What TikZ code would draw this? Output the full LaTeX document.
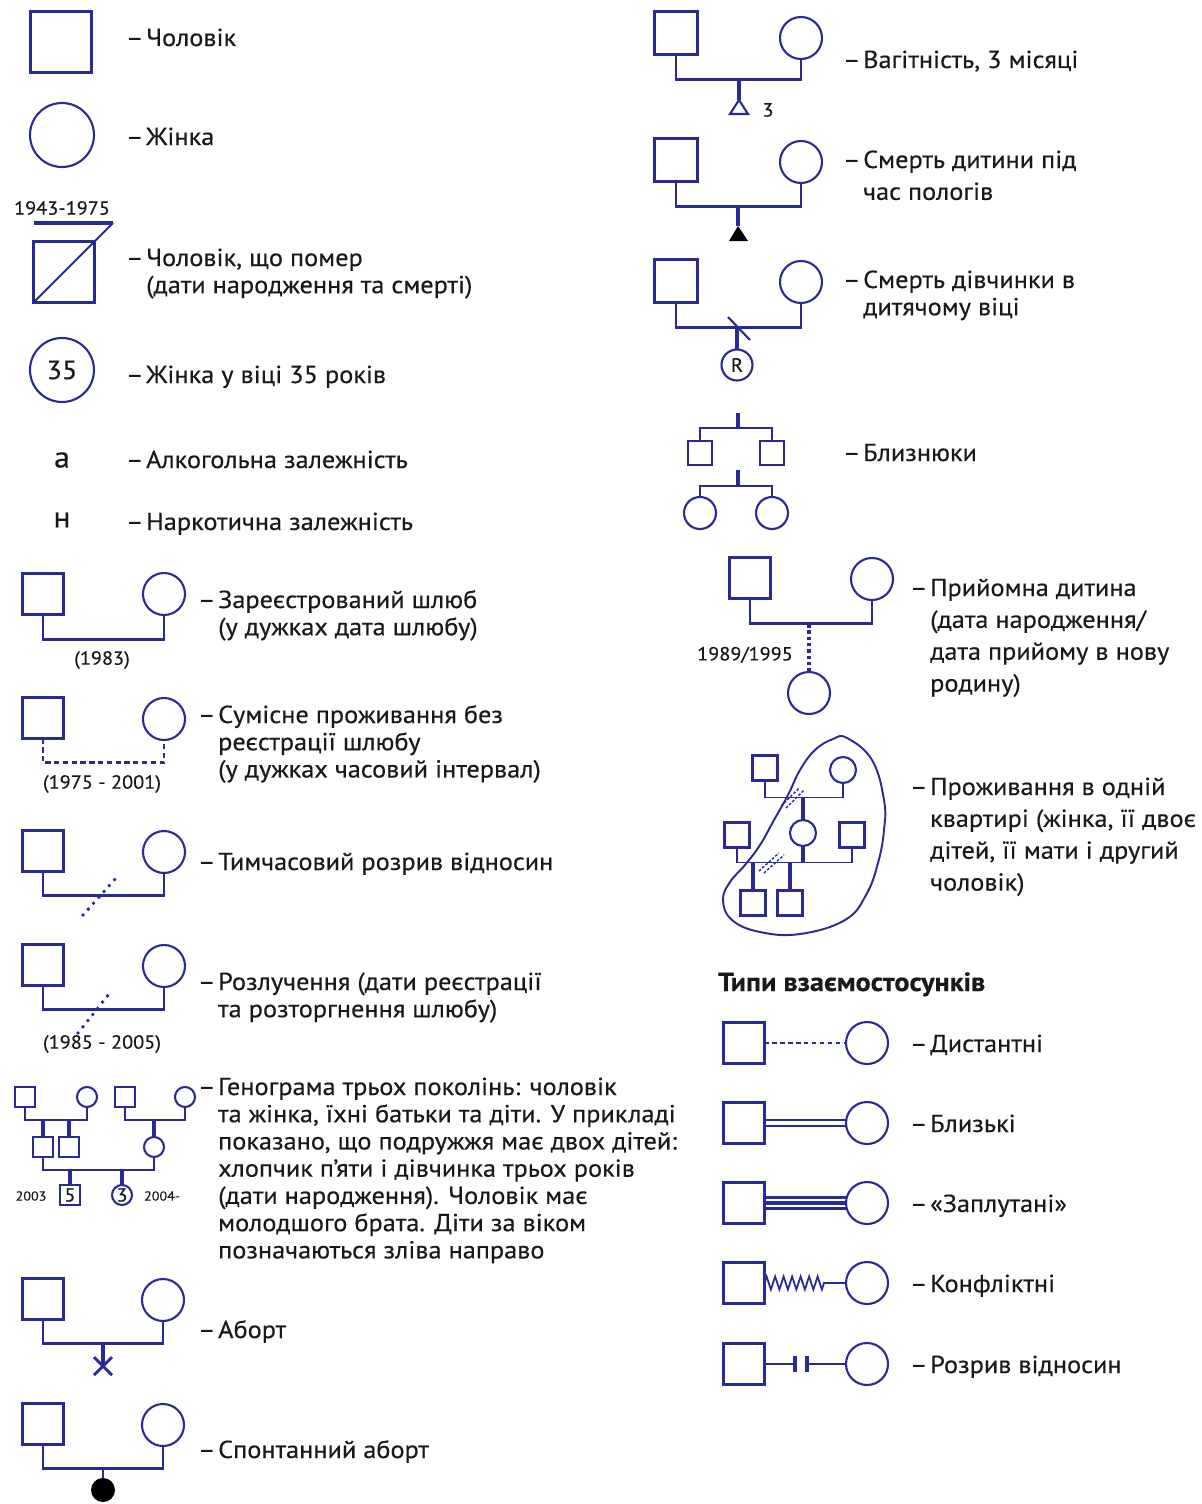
\documentclass[tikz,border=0pt]{standalone}
\usepackage{fontspec}
\setmainfont[FakeStretch=1.07, FakeBold=0.3]{PT Sans}
\usepackage{xcolor}
\usetikzlibrary{positioning,decorations.pathmorphing}

\definecolor{gb}{RGB}{42,42,150}
\definecolor{tx}{RGB}{25,25,25}
\newcommand{\lgfont}{\fontsize{14}{15.5}\selectfont}
\newcommand{\notefont}{\fontsize{10.8}{12}\selectfont}
\newcommand{\tinyfont}{\fontsize{7.5}{9}\selectfont}
\newcommand{\lgd}[2][1]{\renewcommand\arraystretch{#1}–\hspace{1.6pt}\begin{tabular}[t]{@{}l@{}}#2\end{tabular}}

\begin{document}
\begin{tikzpicture}[x=0.02cm, y=-0.02cm,
    every node/.style={inner sep=0pt, outer sep=0pt},
    sq/.style={draw=gb, line width=1.2pt, rectangle, minimum size=#1},
    sq/.default=0.82cm,
    ci/.style={draw=gb, line width=1.2pt, circle, minimum size=#1},
    ci/.default=0.84cm,
    ln/.style={draw=gb, line width=1.2pt},
    kid/.style={draw=gb, line width=2.4pt},
    dots/.style={draw=gb, line width=2.2pt, line cap=round, dash pattern=on 0pt off 4.5pt},
    hatch/.style={draw=gb, line width=0.8pt, dash pattern=on 1.5pt off 1pt},
    lbl/.style={anchor=base west, text=tx, font=\lgfont},
    note/.style={text=tx, font=\notefont},
    tiny/.style={text=tx, font=\tinyfont},
]
\fill[white] (0,0) rectangle (1202,1504);
\useasboundingbox (0,0) rectangle (1202,1504);

% Single persons
\node[sq=1.22cm] (man) at (61,42) {};
\node[lbl] (tman) at (126,46) {\lgd{Чоловік}};
\node[ci=1.28cm] (woman) at (62,135) {};
\node[lbl] (twoman) at (126,145) {\lgd{Жінка}};

\node[sq=1.22cm] (dead) at (64,272) {};
\coordinate (bar) at (113,223);
\draw[ln, line width=2.2pt] (dead.west |- bar) -- (bar);
\draw[ln] (dead.south west) -- (bar);
\node[note] (ddate) at (62,208) {1943-1975};
\node[lbl] (tdead) at (126,266) {\lgd{Чоловік, що помер\\(дати народження та смерті)}};

\node[ci=1.28cm, text=tx, font=\fontsize{15}{18}\selectfont] (w35) at (62,370) {35};
\node[lbl] (tw35) at (126,383) {\lgd{Жінка у віці 35 років}};
\node[text=tx, font=\fontsize{17}{18}\selectfont] (alc) at (62,460) {а};
\node[lbl] (talc) at (126,468) {\lgd{Алкогольна залежність}};
\node[text=tx, font=\fontsize{17}{18}\selectfont] (drug) at (62,520) {н};
\node[lbl] (tdrug) at (126,530) {\lgd{Наркотична залежність}};

% Couples
\node[sq] (m1) at (43,594) {};
\node[ci] (f1) at (164,594) {};
\draw[ln] (m1.south) -- ++(0,25) -| (f1.south);
\node[note] (y1) at (102,660) {(1983)};
\node[lbl] (t1) at (198,608) {\lgd{Зареєстрований шлюб\\(у дужках дата шлюбу)}};

\node[sq] (m2) at (43,718) {};
\node[ci] (f2) at (164,719) {};
\draw[ln, dash pattern=on 3pt off 2pt] (m2.south) -- ++(0,24) -| (f2.south);
\node[note] (y2) at (102,784) {(1975 - 2001)};
\node[lbl] (t2) at (198,723) {\lgd{Сумісне проживання без\\реєстрації шлюбу\\(у дужках часовий інтервал)}};

\node[sq] (m3) at (43,851) {};
\node[ci] (f3) at (164,852) {};
\draw[ln] (m3.south) -- ++(0,24) -| (f3.south);
\draw[dots] (83,915) -- (116,878);
\node[lbl] (t3) at (198,870) {\lgd{Тимчасовий розрив відносин}};

\node[sq] (m4) at (43,965) {};
\node[ci] (f4) at (164,966) {};
\draw[ln] (m4.south) -- ++(0,24) -| (f4.south);
\draw[dots] (78,1033) -- (109,994);
\node[note] (y4) at (102,1044) {(1985 - 2005)};
\node[lbl] (t4) at (198,990) {\lgd{Розлучення (дати реєстрації\\та розторгнення шлюбу)}};

% Three generations
\node[sq=0.4cm] (g1) at (25,1097) {};
\node[ci=0.4cm] (g2) at (87,1097) {};
\node[sq=0.4cm] (g3) at (125,1097) {};
\node[ci=0.4cm] (g4) at (185,1097) {};
\draw[ln] (g1.south) -- ++(0,13) -| (g2.south);
\draw[ln] (g3.south) -- ++(0,13) -| (g4.south);
\coordinate (j1) at (56,1120);
\coordinate (j2) at (155,1120);
\node[sq=0.4cm] (s1) at (43,1147) {};
\node[sq=0.4cm] (s2) at (69,1147) {};
\node[ci=0.4cm] (d1) at (154,1147) {};
\draw[kid] (s1.north) -- (s1.north |- j1);
\draw[kid] (s2.north) -- (s2.north |- j1);
\draw[kid] (d1.north) -- (d1.north |- j2);
\draw[ln] (s1.south) -- ++(0,13) -| (d1.south);
\coordinate (j3) at (96,1170);
\node[sq=0.4cm, text=tx, font=\notefont] (c5) at (70,1195) {5};
\node[ci=0.4cm, text=tx, font=\notefont] (c3) at (122,1195) {3};
\draw[kid] (c5.north) -- (c5.north |- j3);
\draw[kid] (c3.north) -- (c3.north |- j3);
\node[tiny] (y03) at (31,1196) {2003};
\node[tiny] (y04) at (162,1196) {2004-};
\node[lbl] (t5) at (198,1095) {\lgd{Генограма трьох поколінь: чоловік\\та жінка, їхні батьки та діти. У прикладі\\показано, що подружжя має двох дітей:\\хлопчик п’яти і дівчинка трьох років\\(дати народження). Чоловік має\\молодшого брата. Діти за віком\\позначаються зліва направо}};

% Abortions
\node[sq] (m5) at (43,1299) {};
\node[ci] (f5) at (163,1300) {};
\draw[ln] (m5.south) -- ++(0,24) -| (f5.south);
\coordinate (k5) at (103,1344);
\coordinate (ab) at (103,1366);
\draw[kid] (k5) -- (ab);
\draw[ln, line width=1.6pt] (94,1357) -- (112,1375) (112,1357) -- (94,1375);
\node[lbl] (t6) at (198,1338) {\lgd{Аборт}};

\node[sq] (m6) at (43,1424) {};
\node[ci] (f6) at (163,1425) {};
\draw[ln] (m6.south) -- ++(0,24) -| (f6.south);
\coordinate (k6) at (103,1470);
\node[circle, fill=black, minimum size=0.48cm] (sp) at (103,1490) {};
\draw[ln] (sp.north) -- (k6);
\node[lbl] (t7) at (198,1458) {\lgd{Спонтанний аборт}};

% Right column: pregnancy and deaths
\node[sq=0.86cm] (p1m) at (676,33) {};
\node[ci] (p1f) at (801,38) {};
\draw[ln] (p1m.south) -- ++(0,25) -| (p1f.south);
\coordinate (k1) at (739,80);
\coordinate (tr1) at (739,100);
\draw[kid, line width=1.8pt] (k1) -- (tr1);
\draw[ln] (tr1) -- ++(-9,14) -- ++(18,0) -- cycle;
\node[note] (n3) at (768,110) {3};
\node[lbl] (r1) at (843,68) {\lgd{Вагітність, 3 місяці}};

\node[sq=0.86cm] (p2m) at (676,160) {};
\node[ci] (p2f) at (801,162) {};
\draw[ln] (p2m.south) -- ++(0,25) -| (p2f.south);
\coordinate (k2) at (738,207);
\coordinate (tr2) at (738,226);
\draw[kid] (k2) -- (tr2);
\fill[black] (tr2) -- (729,241) -- (748,241) -- cycle;
\node[lbl] (r2) at (843,168) {\lgd[1.17]{Смерть дитини під\\час пологів}};

\node[sq=0.86cm] (p3m) at (676,281) {};
\node[ci] (p3f) at (801,282) {};
\draw[ln] (p3m.south) -- ++(0,25) -| (p3f.south);
\coordinate (k3) at (737,327);
\node[ci=0.62cm, text=tx, font=\fontsize{11}{13}\selectfont] (rc) at (737,365) {R};
\draw[kid] (k3) -- (rc.north);
\draw[ln] (728,317) -- (750,340);
\node[lbl] (r3) at (843,288) {\lgd{Смерть дівчинки в\\дитячому віці}};

% Twins
\coordinate (tk1) at (738,413);
\coordinate (tk2) at (738,470);
\node[sq=0.48cm] (tw1) at (700,453) {};
\node[sq=0.48cm] (tw2) at (772,453) {};
\node[ci=0.64cm] (tw3) at (700,513) {};
\node[ci=0.64cm] (tw4) at (772,513) {};
\draw[kid, line width=2pt] (tk1) -- ++(0,15);
\draw[ln] (tw1.north) |- (tk1 |- 0,428) -| (tw2.north);
\draw[kid, line width=2pt] (tk2) -- ++(0,16);
\draw[ln] (tw3.north) |- (tk2 |- 0,486) -| (tw4.north);
\node[lbl] (r4) at (843,461) {\lgd{Близнюки}};

% Adoption
\node[sq] (a1m) at (750,578) {};
\node[ci] (a1f) at (872,579) {};
\draw[ln] (a1m.south) -- ++(0,25) -| (a1f.south);
\node[ci] (a1c) at (809,693) {};
\coordinate (k4) at (809,624);
\draw[draw=gb, line width=1.8pt, dash pattern=on 2pt off 1.6pt] (k4) -- (a1c.north);
\node[note] (y5) at (745,655) {1989/1995};
\node[lbl] (r5) at (910,596) {\lgd[1.17]{Прийомна дитина\\(дата народження/\\дата прийому в нову\\родину)}};

% Household
\node[sq=0.5cm] (h1) at (765,768) {};
\node[ci=0.52cm] (h2) at (843,770) {};
\draw[ln, line width=1pt] (h1.south) -- ++(0,17) -| (h2.south);
\node[ci=0.52cm] (h3) at (803,833) {};
\coordinate (k7) at (803,797);
\draw[kid, line width=2pt] (k7) -- (h3.north);
\node[sq=0.5cm] (h4) at (737,835) {};
\node[sq=0.5cm] (h5) at (852,835) {};
\draw[ln, line width=1pt] (h4.south) -- ++(0,15) -| (h5.south);
\coordinate (k8) at (803,863);
\draw[kid, line width=2pt] (h3.south) -- (k8);
\node[sq=0.5cm] (h6) at (753,903) {};
\node[sq=0.5cm] (h7) at (790,903) {};
\draw[kid, line width=2pt] (h6.north) -- (h6.north |- k8);
\draw[kid, line width=2pt] (h7.north) -- (h7.north |- k8);
\draw[hatch] (781,806) -- (799,788);
\draw[hatch] (786,808) -- (804,790);
\draw[hatch] (759,871) -- (779,853);
\draw[hatch] (764,873) -- (784,855);
\draw[gb, line width=1.1pt] plot[smooth cycle, tension=0.7] coordinates {(847,738) (872,760) (884,800) (884,830) (878,863) (866,895) (845,920) (800,934) (760,932) (732,920) (723,900) (730,882) (745,865) (760,845) (774,820) (788,795) (800,770) (815,750) (833,739)};
\node[lbl] (r6) at (910,795) {\lgd[1.17]{Проживання в одній\\квартирі (жінка, її двоє\\дітей, її мати і другий\\чоловік)}};

% Relationship types
\node[anchor=base west, text=tx, font=\fontsize{15}{15}\selectfont\bfseries] (ttl) at (718,991) {Типи взаємостосунків};

\node[sq] (q1) at (744,1043) {};
\node[ci] (c1) at (867,1043) {};
\draw[draw=gb, line width=1pt, dash pattern=on 2.5pt off 2pt] (q1.east) -- (c1.west);
\node[lbl] (u1) at (910,1052) {\lgd{Дистантні}};

\node[sq] (q2) at (744,1123) {};
\node[ci] (c2) at (867,1123) {};
\draw[ln, line width=1.1pt] ([yshift=1.6pt]q2.east) -- ([yshift=1.6pt]c2.west);
\draw[ln, line width=1.1pt] ([yshift=-1.6pt]q2.east) -- ([yshift=-1.6pt]c2.west);
\node[lbl] (u2) at (910,1132) {\lgd{Близькі}};

\node[sq] (q3) at (744,1203) {};
\node[ci] (c3r) at (867,1203) {};
\draw[ln, line width=1.9pt] ([yshift=3pt]q3.east) -- ([yshift=3pt]c3r.west);
\draw[ln, line width=1.9pt] (q3.east) -- (c3r.west);
\draw[ln, line width=1.9pt] ([yshift=-3pt]q3.east) -- ([yshift=-3pt]c3r.west);
\node[lbl] (u3) at (910,1212) {\lgd{«Заплутані»}};

\node[sq] (q4) at (744,1283) {};
\node[ci] (c4) at (867,1283) {};
\coordinate (zz) at (827,1283);
\draw[ln, line width=1pt] (q4.east) decorate[decoration={zigzag, segment length=0.17cm, amplitude=0.13cm}] {-- (zz)} -- (c4.west);
\node[lbl] (u4) at (910,1292) {\lgd{Конфліктні}};

\node[sq] (q5) at (744,1364) {};
\node[ci] (c5r) at (867,1364) {};
\coordinate (cb1) at (795,1364);
\coordinate (cb2) at (807,1364);
\draw[ln, line width=1.6pt] (q5.east) -- (cb1);
\draw[ln, line width=1.6pt] (cb2) -- (c5r.west);
\draw[ln, line width=2pt] (cb1) ++(0,-8) -- ++(0,16);
\draw[ln, line width=2pt] (cb2) ++(0,-8) -- ++(0,16);
\node[lbl] (u5) at (910,1373) {\lgd{Розрив відносин}};
\end{tikzpicture}
\end{document}
